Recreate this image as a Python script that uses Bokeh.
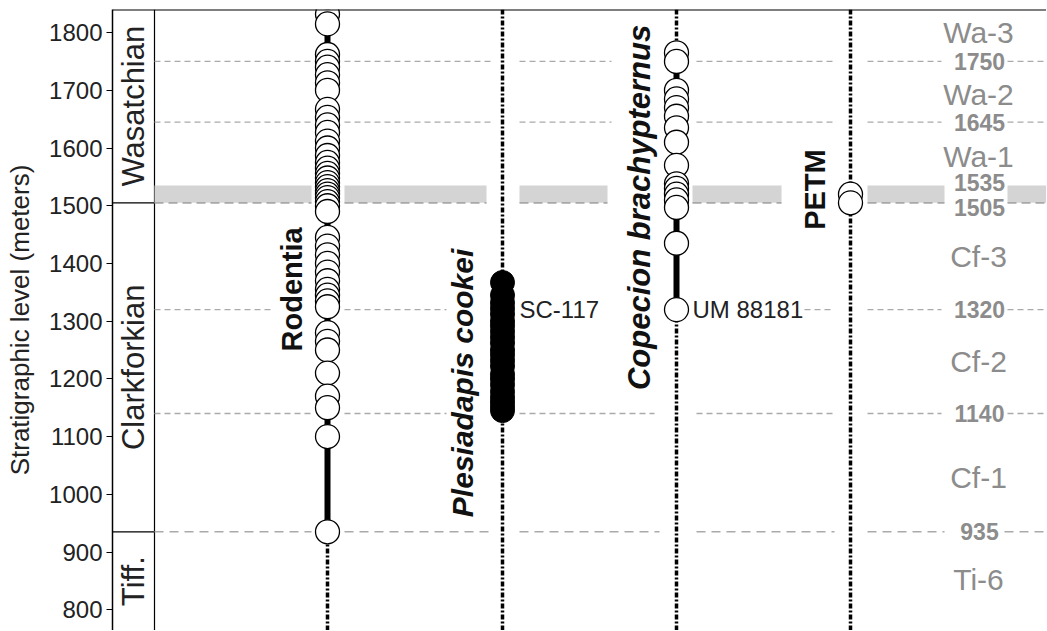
import math
from bokeh.plotting import figure
from bokeh.models import Range1d, FixedTicker, Span
from bokeh.embed import file_html
from bokeh.resources import INLINE
from bokeh.core.properties import value

# ---------------- data (stratigraphic levels, meters) ----------------
rodentia = [935, 1100, 1150, 1170, 1210, 1250, 1265, 1280, 1325, 1335, 1345,
            1355, 1370, 1385, 1400, 1415, 1430, 1445, 1490, 1500, 1507, 1514,
            1520, 1526, 1533, 1540, 1548, 1556, 1565, 1575, 1587, 1600, 1612,
            1627, 1640, 1653, 1667, 1700, 1713, 1727, 1740, 1750, 1762, 1815,
            1832]
plesiadapis = [1145, 1152, 1160, 1168, 1178, 1190, 1200, 1208, 1222, 1232,
               1242, 1250, 1262, 1272, 1282, 1292, 1300, 1312, 1322, 1332,
               1345, 1367]
copecion = [1320, 1435, 1497, 1510, 1520, 1530, 1538, 1570, 1610, 1635,
            1655, 1670, 1685, 1700, 1750, 1765]
petm_pts = [1505, 1520]

taxa = ["Rodentia", "Plesiadapis cookei", "Copecion brachypternus", "PETM"]
specimen_labels = ["SC-117", "UM 88181"]
boundaries = [1750, 1645, 1320, 1140, 935]
band = [1505, 1535]
zones = ["Wa-3", "Wa-2", "Wa-1", "Cf-3", "Cf-2", "Cf-1", "Ti-6"]
zone_y = [1800, 1693, 1585, 1412, 1230, 1029, 852]
level_text = ["1750", "1645", "1535", "1505", "1320", "1140", "935"]
level_y = [1750, 1645, 1535, 1505, 1320, 1140, 935]
stages = ["Wasatchian", "Clarkforkian", "Tiff."]
stage_bounds = [1505, 935]
y_ticks = [800, 900, 1000, 1100, 1200, 1300, 1400, 1500, 1600, 1700, 1800]

# ---------------- layout constants (screen px inside frame) ----------------
Y0, Y1 = 764, 1840
XW = 934
BOX = 42
col_x = [215, 390, 564, 738]
FONT = value("Liberation Sans")
GRAY = "#8c8c8c"
DASH_GRAY = "#aaaaaa"

p = figure(width=1046, height=630, output_backend="svg", toolbar_location=None,
           x_range=Range1d(0, XW), y_range=Range1d(Y0, Y1),
           x_axis_location=None, min_border_left=112, min_border_right=0,
           min_border_top=9, min_border_bottom=0)
p.outline_line_color = None
p.grid.visible = False
p.background_fill_color = "white"

ax = p.yaxis[0]
ax.ticker = FixedTicker(ticks=y_ticks)
ax.axis_label = "Stratigraphic level (meters)"
ax.axis_label_text_font = "Liberation Sans"
ax.axis_label_text_font_size = "26px"
ax.axis_label_text_font_style = "normal"
ax.axis_label_text_color = "#222222"
ax.axis_label_standoff = 11
ax.major_label_text_font = "Liberation Sans"
ax.major_label_text_font_size = "24px"
ax.major_label_text_color = "#222222"
ax.major_label_standoff = 4
ax.major_tick_out = 6
ax.major_tick_in = 0
ax.minor_tick_line_color = None
ax.axis_line_width = 1.5
ax.major_tick_line_width = 1.2

# top border
p.add_layout(Span(location=Y1, dimension="width", line_color="black", line_width=2))

# stage box
p.segment(x0=[BOX], y0=[Y0], x1=[BOX], y1=[Y1], line_color="black", line_width=1.2)
p.segment(x0=[0] * len(stage_bounds), y0=stage_bounds, x1=[BOX] * len(stage_bounds),
          y1=stage_bounds, line_color="black", line_width=1.2)
stage_mid = [(Y1 + stage_bounds[0]) / 2, (stage_bounds[0] + stage_bounds[1]) / 2,
             (stage_bounds[1] + Y0) / 2]
p.text(x=[BOX / 2] * 3, y=stage_mid, text=stages, angle=math.pi / 2,
       text_align="center", text_baseline="middle", text_font=FONT,
       text_font_size="31px", text_color="#222222")

# horizontal boundaries with gaps
gaps_upper = [(42, 199), (232, 382), (407, 499), (584, 722), (755, 829), (895, 934)]
seg_map = {
    1750: gaps_upper,
    1645: gaps_upper,
    1320: [(42, 159), (232, 334), (692, 722), (755, 829), (895, 934)],
    1140: [(42, 199), (232, 334), (407, 542), (584, 722), (755, 829), (895, 934)],
    935: [(42, 199), (232, 382), (407, 547), (584, 722), (755, 832), (892, 934)],
}
band_segs = [(42, 199), (232, 374), (407, 495), (580, 669), (755, 832), (895, 934)]

p.quad(left=[s[0] for s in band_segs], right=[s[1] for s in band_segs],
       bottom=[band[0]] * len(band_segs), top=[band[1]] * len(band_segs),
       fill_color="#d4d4d4", line_color=None)
p.segment(x0=[s[0] for s in band_segs], x1=[s[1] for s in band_segs],
          y0=[band[0]] * len(band_segs), y1=[band[0]] * len(band_segs),
          line_color="#a8a8a8", line_width=1.6, line_dash="9 5")

for lev in boundaries:
    segs = seg_map[lev]
    dash = "9 6" if lev == 935 else "6 4"
    lw = 1.6 if lev == 935 else 1.3
    p.segment(x0=[s[0] for s in segs], x1=[s[1] for s in segs],
              y0=[lev] * len(segs), y1=[lev] * len(segs),
              line_color=DASH_GRAY, line_width=lw, line_dash=dash)

# vertical sampling (dotted) lines
p.segment(x0=col_x, x1=col_x, y0=[Y0] * 4, y1=[Y1] * 4,
          line_color="black", line_width=3.5, line_dash="5 2 2 2")

# range-through lines
p.segment(x0=[col_x[0], col_x[1], col_x[2]],
          x1=[col_x[0], col_x[1], col_x[2]],
          y0=[min(rodentia), min(plesiadapis), min(copecion)],
          y1=[Y1, max(plesiadapis), max(copecion)],
          line_color="black", line_width=6)

# occurrences
p.scatter(x=[col_x[0]] * len(rodentia), y=rodentia[::-1], size=24,
          fill_color="white", line_color="black", line_width=1.3)
p.scatter(x=[col_x[1]] * len(plesiadapis), y=plesiadapis, size=24,
          fill_color="black", line_color="black", line_width=1)
p.scatter(x=[col_x[2]] * len(copecion), y=copecion[::-1], size=24,
          fill_color="white", line_color="black", line_width=1.3)
p.scatter(x=[col_x[3]] * len(petm_pts), y=petm_pts[::-1], size=24,
          fill_color="white", line_color="black", line_width=1.3)

# taxon labels
p.text(x=[179], y=[1355], text=[taxa[0]], angle=math.pi / 2, text_align="center",
       text_baseline="middle", text_font=FONT, text_font_size="29px",
       text_font_style="bold", text_color="#111111")
p.text(x=[350], y=[1193], text=[taxa[1]], angle=math.pi / 2,
       text_align="center", text_baseline="middle", text_font=FONT,
       text_font_size="30px", text_font_style="bold italic", text_color="#111111")
p.text(x=[527], y=[1497], text=[taxa[2]], angle=math.pi / 2,
       text_align="center", text_baseline="middle", text_font=FONT,
       text_font_size="31px", text_font_style="bold italic", text_color="#111111")
p.text(x=[702], y=[1528], text=[taxa[3]], angle=math.pi / 2, text_align="center",
       text_baseline="middle", text_font=FONT, text_font_size="29px",
       text_font_style="bold", text_color="#111111")

# specimen labels
p.text(x=[407, 580], y=[1320, 1320], text=specimen_labels, text_align="left",
       text_baseline="middle", text_font=FONT, text_font_size="24px",
       text_color="#222222")

# zone labels on the right
p.text(x=[866] * len(zones), y=zone_y, text=zones, text_align="center",
       text_baseline="middle", text_font=FONT, text_font_size="30px",
       text_color=GRAY)
offs = [0, 0, -3, 5, 0, 0, 0]
p.text(x=[867] * len(level_text), y=level_y, text=level_text, y_offset=offs,
       text_align="center", text_baseline="middle", text_font=FONT,
       text_font_size="23px", text_font_style="bold", text_color=GRAY)

open("out.html", "w").write(file_html(p, INLINE))
